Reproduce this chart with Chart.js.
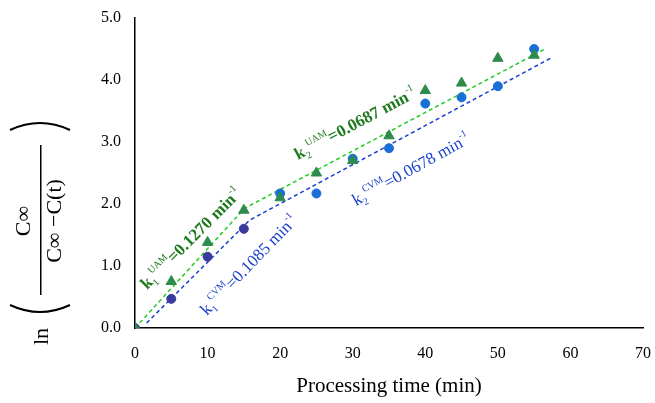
<!DOCTYPE html>
<html><head><meta charset="utf-8">
<script src="https://cdn.jsdelivr.net/npm/chart.js@4"></script>
<style>html,body{margin:0;background:#fff}#wrap{width:655px;height:403px}</style>
</head><body><div id="wrap"><canvas id="c"></canvas></div>
<script>
const times = [0, 5, 10, 15, 20, 25, 30, 35, 40, 45, 50, 55];
const uamValues = [0, 0.75, 1.38, 1.9, 2.1, 2.5, 2.7, 3.1, 3.83, 3.95, 4.35, 4.4];
const cvmValues = [0, 0.47, 1.15, 1.6, 2.17, 2.17, 2.73, 2.9, 3.62, 3.72, 3.9, 4.5];
const uamFit = [{x: 0, y: 0}, {x: 15.1, y: 1.93}, {x: 56.5, y: 4.5}];
const cvmFit = [{x: 1.6, y: 0.08}, {x: 15.8, y: 1.74}, {x: 57.4, y: 4.36}];
const xTicks = [0, 10, 20, 30, 40, 50, 60, 70];
const yTicks = [0, 1, 2, 3, 4, 5];

const pts = vals => times.map((t, i) => ({x: t, y: vals[i]}));
const cvmColors = times.map(t => t <= 15 ? '#3a3a9e' : '#1a6fd6');

const serif = '"Liberation Serif", "DejaVu Serif", serif';

const annotate = {
  id: 'annotate',
  afterDraw(chart) {
    const c = chart.ctx;
    const label = (px, py, ang, color, bold, k, sup, rest) => {
      const b = bold ? 'bold ' : '';
      c.save();
      c.translate(px, py);
      c.rotate(-ang * Math.PI / 180);
      c.fillStyle = color;
      c.font = b + '17px ' + serif;
      c.fillText('k', 0, 0);
      let w = c.measureText('k').width;
      c.font = '10px ' + serif;
      c.fillText(k, w, 4);
      c.fillText(sup, w + 5, -8);
      w += 5 + c.measureText(sup).width;
      c.font = b + '17px ' + serif;
      c.fillText(rest, w, 0);
      w += c.measureText(rest).width;
      c.font = '10px ' + serif;
      c.fillText('-1', w, -8);
      c.restore();
    };
    label(147, 290, 45, '#1f7a1f', true, '1', 'UAM', '=0.1270 min');
    label(207, 316, 46, '#1a3fcf', false, '1', 'CVM', '=0.1085 min');
    label(298, 160, 28, '#1f7a1f', true, '2', 'UAM', '=0.0687 min');
    label(356, 206, 29, '#1a3fcf', false, '2', 'CVM', '=0.0678 min');

    // y-axis title
    c.save();
    c.translate(40, 215);
    c.rotate(-Math.PI / 2);
    c.fillStyle = '#000';
    c.strokeStyle = '#000';
    c.textBaseline = 'middle';
    c.font = '22px ' + serif;
    c.fillText('ln', -130, 2);
    c.textAlign = 'center';
    c.fillText('C\u221e', -6, -16);
    c.fillText('C\u221e \u2212C(t)', -6, 15);
    c.fillRect(-80, 0, 150, 1.5);
    c.lineWidth = 2;
    c.beginPath();
    c.moveTo(-90, -30); c.quadraticCurveTo(-104, 0, -90, 30);
    c.moveTo(85, -30); c.quadraticCurveTo(99, 0, 85, 30);
    c.stroke();
    c.restore();
  }
};

new Chart(document.getElementById('c'), {
  type: 'scatter',
  data: {
    datasets: [
      {label: 'UAM', data: pts(uamValues), pointStyle: 'triangle', pointRadius: 6,
       backgroundColor: '#2e8b4e', borderColor: '#2e8b4e'},
      {label: 'CVM', data: pts(cvmValues), pointStyle: 'circle', pointRadius: 4.5,
       backgroundColor: cvmColors, borderColor: cvmColors},
      {type: 'line', label: 'UAM fit', data: uamFit, borderColor: '#22cc22', borderWidth: 1.5,
       borderDash: [4, 3], pointRadius: 0, fill: false},
      {type: 'line', label: 'CVM fit', data: cvmFit, borderColor: '#1a3fcf', borderWidth: 1.5,
       borderDash: [4, 3], pointRadius: 0, fill: false}
    ]
  },
  options: {
    responsive: true, maintainAspectRatio: false, animation: false,
    layout: {padding: {top: 18, right: 12}},
    plugins: {legend: {display: false}, tooltip: {enabled: false}},
    scales: {
      x: {
        min: 0, max: 70,
        afterBuildTicks: s => { s.ticks = xTicks.map(v => ({value: v})); },
        afterFit: s => { s.height = 75; s.paddingRight = 0; s.paddingLeft = 0; },
        grid: {display: false, drawTicks: true, tickLength: 6, tickColor: '#000'},
        border: {color: '#000', width: 1.5},
        ticks: {color: '#000', font: {family: serif, size: 16}, padding: 10},
        title: {display: true, text: 'Processing time (min)', color: '#000',
                font: {family: serif, size: 21}, padding: {top: 14}}
      },
      y: {
        min: 0, max: 5,
        afterBuildTicks: s => { s.ticks = yTicks.map(v => ({value: v})); },
        afterFit: s => { s.width = 135; },
        grid: {display: false, tickLength: 6, tickColor: '#000'},
        border: {color: '#000', width: 1.5},
        ticks: {color: '#000', font: {family: serif, size: 16}, padding: 8, callback: v => v.toFixed(1)}
      }
    }
  },
  plugins: [annotate]
});
</script></body></html>
